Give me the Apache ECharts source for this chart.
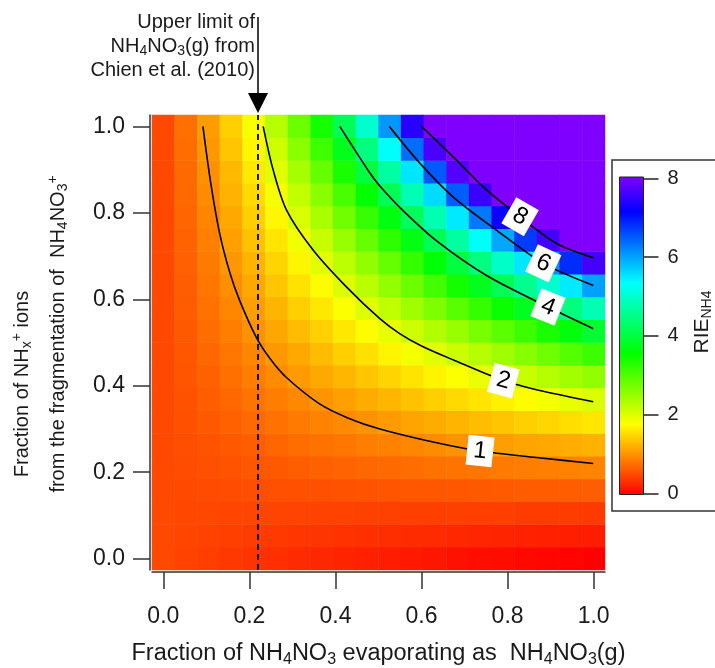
<!DOCTYPE html>
<html>
<head>
<meta charset="utf-8">
<script src="https://cdn.jsdelivr.net/npm/echarts@6/dist/echarts.min.js"></script>
<style>html,body{margin:0;padding:0;background:#fff}#c{width:715px;height:668px}</style>
</head>
<body>
<div id="c"></div>
<script>
// ---------- data ----------
const gridX = [0,0.053,0.105,0.158,0.211,0.263,0.316,0.368,0.421,0.474,0.526,0.579,0.632,0.684,0.737,0.789,0.842,0.895,0.947,1];
const gridY = [0,0.053,0.105,0.158,0.211,0.263,0.316,0.368,0.421,0.474,0.526,0.579,0.632,0.684,0.737,0.789,0.842,0.895,0.947,1];
// RIE_NH4 per cell, rows from y = 0 (bottom) to y = 1 (top); 9 = saturated (>= 8)
const rie = [
 [0.50,0.46,0.43,0.39,0.36,0.33,0.30,0.27,0.25,0.22,0.19,0.17,0.15,0.12,0.10,0.08,0.06,0.04,0.02,0.00],
 [0.50,0.48,0.46,0.44,0.42,0.40,0.38,0.37,0.35,0.33,0.32,0.30,0.29,0.27,0.26,0.25,0.23,0.22,0.21,0.19],
 [0.50,0.49,0.49,0.48,0.48,0.47,0.47,0.46,0.46,0.45,0.45,0.44,0.44,0.44,0.43,0.43,0.42,0.42,0.42,0.41],
 [0.50,0.51,0.52,0.53,0.54,0.55,0.56,0.56,0.57,0.58,0.59,0.60,0.61,0.61,0.62,0.63,0.64,0.64,0.65,0.66],
 [0.50,0.53,0.55,0.58,0.60,0.62,0.65,0.67,0.70,0.72,0.74,0.76,0.79,0.81,0.83,0.85,0.87,0.89,0.91,0.93],
 [0.50,0.54,0.58,0.62,0.66,0.71,0.75,0.79,0.83,0.87,0.90,0.94,0.98,1.02,1.06,1.10,1.14,1.17,1.21,1.25],
 [0.50,0.56,0.62,0.67,0.73,0.79,0.85,0.91,0.96,1.02,1.08,1.14,1.20,1.26,1.32,1.38,1.44,1.49,1.55,1.61],
 [0.50,0.57,0.65,0.72,0.80,0.88,0.95,1.03,1.11,1.19,1.27,1.35,1.44,1.52,1.60,1.69,1.78,1.86,1.95,2.04],
 [0.50,0.59,0.68,0.78,0.87,0.97,1.07,1.17,1.27,1.37,1.48,1.59,1.70,1.81,1.93,2.05,2.17,2.29,2.42,2.54],
 [0.50,0.61,0.72,0.83,0.94,1.06,1.18,1.31,1.44,1.57,1.71,1.85,1.99,2.14,2.30,2.45,2.62,2.79,2.97,3.15],
 [0.50,0.62,0.75,0.88,1.02,1.16,1.31,1.46,1.62,1.78,1.95,2.13,2.32,2.51,2.72,2.93,3.15,3.38,3.63,3.89],
 [0.50,0.64,0.79,0.94,1.10,1.26,1.44,1.62,1.81,2.01,2.23,2.45,2.69,2.94,3.20,3.49,3.79,4.10,4.44,4.81],
 [0.50,0.66,0.82,0.99,1.18,1.37,1.58,1.79,2.02,2.27,2.53,2.81,3.11,3.43,3.77,4.15,4.55,4.99,5.47,5.99],
 [0.50,0.67,0.86,1.05,1.26,1.48,1.72,1.98,2.25,2.55,2.86,3.21,3.59,4.00,4.45,4.95,5.50,6.11,6.80,7.58],
 [0.50,0.69,0.89,1.11,1.35,1.60,1.88,2.17,2.50,2.85,3.24,3.67,4.14,4.67,5.27,5.94,6.70,7.58,8.60,9.00],
 [0.50,0.71,0.93,1.17,1.44,1.73,2.04,2.38,2.77,3.19,3.66,4.19,4.79,5.48,6.27,7.19,8.27,9.00,9.00,9.00],
 [0.50,0.73,0.97,1.24,1.53,1.85,2.21,2.61,3.06,3.57,4.14,4.80,5.57,6.46,7.53,8.82,9.00,9.00,9.00,9.00],
 [0.50,0.74,1.01,1.30,1.63,1.99,2.40,2.86,3.38,3.99,4.69,5.51,6.49,7.69,9.00,9.00,9.00,9.00,9.00,9.00],
 [0.50,0.76,1.05,1.37,1.73,2.13,2.60,3.13,3.74,4.46,5.31,6.35,7.63,9.00,9.00,9.00,9.00,9.00,9.00,9.00],
 [0.50,0.78,1.09,1.44,1.83,2.29,2.81,3.42,4.14,5.00,6.06,7.38,9.00,9.00,9.00,9.00,9.00,9.00,9.00,9.00]
];
const contour1 = [[0.092,1.0],[0.11,0.87],[0.131,0.752],[0.155,0.66],[0.177,0.598],[0.216,0.512],[0.25,0.46],[0.286,0.419],[0.363,0.358],[0.43,0.325],[0.503,0.300],[0.635,0.268],[0.736,0.249],[0.867,0.234],[0.999,0.220]];
const contour2 = [[0.232,1.0],[0.255,0.90],[0.286,0.807],[0.348,0.714],[0.426,0.628],[0.503,0.555],[0.55,0.52],[0.60,0.492],[0.673,0.46],[0.79,0.412],[0.883,0.387],[0.999,0.363]];
const contour4 = [[0.41,1.0],[0.48,0.892],[0.503,0.862],[0.557,0.805],[0.635,0.735],[0.751,0.655],[0.894,0.582],[0.999,0.532]];
const contour6 = [[0.525,1.0],[0.596,0.915],[0.673,0.837],[0.774,0.760],[0.883,0.683],[0.999,0.632]];
const contour8 = [[0.60,1.0],[0.673,0.930],[0.751,0.853],[0.829,0.791],[0.914,0.729],[0.999,0.696]];
const labelText = ['1','2','4','6','8'];
const labelX = [0.736,0.790,0.894,0.883,0.829];
const labelY = [0.249,0.412,0.582,0.683,0.791];
const chienLimit = 0.22;
const xTicks = [0,0.2,0.4,0.6,0.8,1.0];
const yTicks = [0,0.2,0.4,0.6,0.8,1.0];
const cbTicks = [0,2,4,6,8];

// ---------- styles ----------
const labelAngle = [-6,-15,-22,-25,-30];
const FONT = '"Liberation Sans", Arial, Helvetica, sans-serif';
const TXT = '#1a1a1a';
const cmapStops = [[0,[255,0,0]],[1.78,[255,255,0]],[3.56,[0,255,0]],[5.33,[0,255,255]],[7.11,[0,0,255]],[8,[128,0,255]]];
function colorAt(v){
  for (let k=1;k<cmapStops.length;k++){
    const [v1,c1]=cmapStops[k-1],[v2,c2]=cmapStops[k];
    if (v<=v2){const t=(v-v1)/(v2-v1);
      return 'rgb('+c1.map((c,n)=>Math.round(c+(c2[n]-c)*t)).join(',')+')';}
  }
  return 'rgb(128,0,255)';
}
const cmap=[]; for(let k=0;k<=80;k++) cmap.push(colorAt(k/10));
const gradStops = cmapStops.slice().reverse().map(([v,c])=>({offset:(8-v)/8,color:'rgb('+c.join(',')+')'}));

function rich(fs, lh){
  const ss = Math.round(fs*0.68);
  return {
    t:{fontSize:fs,lineHeight:lh,verticalAlign:'middle',fontFamily:FONT,fill:TXT,color:TXT},
    s:{fontSize:ss,lineHeight:ss,verticalAlign:'bottom',fontFamily:FONT,fill:TXT,color:TXT},
    p:{fontSize:ss,lineHeight:ss,verticalAlign:'top',fontFamily:FONT,fill:TXT,color:TXT}
  };
}

const heatData=[];
rie.forEach((row,j)=>row.forEach((v,i)=>heatData.push([i,j,v])));

const chart = echarts.init(document.getElementById('c'), null, {renderer:'canvas', width:715, height:668});
const axLine = {color:'#333', width:1.5};
const fmt = v => Number(v).toFixed(1);

const option = {
  animation:false,
  backgroundColor:'#fff',
  grid:[
    {left:152, top:115, width:453, height:455, containLabel:false, outerBoundsMode:'none'},
    {left:619.5, top:178.3, width:24, height:315, containLabel:false, outerBoundsMode:'none'}
  ],
  xAxis:[
    {type:'category', gridIndex:0, data:gridX, show:false, position:'top'},
    {type:'value', gridIndex:0, min:-0.5/19, max:1+0.5/19, position:'bottom', offset:2,
     axisLine:{show:true, onZero:false, lineStyle:axLine},
     axisTick:{show:true, length:17, customValues:xTicks, lineStyle:axLine},
     axisLabel:{customValues:xTicks, formatter:fmt, fontSize:23, fontFamily:FONT, color:TXT, margin:33},
     splitLine:{show:false}},
    {type:'value', gridIndex:1, show:false, min:0, max:1}
  ],
  yAxis:[
    {type:'category', gridIndex:0, data:gridY, show:false, position:'right'},
    {type:'value', gridIndex:0, min:-0.5/19, max:1+0.5/19, position:'left', offset:2,
     axisLine:{show:true, onZero:false, lineStyle:axLine},
     axisTick:{show:true, length:17, customValues:yTicks, lineStyle:axLine},
     axisLabel:{customValues:yTicks, formatter:fmt, fontSize:23, fontFamily:FONT, color:TXT, margin:25},
     splitLine:{show:false}},
    {type:'value', gridIndex:1, min:0, max:8, interval:2, position:'right',
     axisLine:{show:false, onZero:false},
     axisTick:{show:true, length:15, customValues:cbTicks, lineStyle:{color:'#222', width:1.5}},
     axisLabel:{customValues:cbTicks, fontSize:20, fontFamily:FONT, color:TXT, margin:24},
     splitLine:{show:false}}
  ],
  visualMap:{show:false, type:'continuous', min:0, max:8, dimension:2, seriesIndex:0, inRange:{color:cmap}},
  series:[
    {type:'heatmap', xAxisIndex:0, yAxisIndex:0, data:heatData, silent:true,
     itemStyle:{borderWidth:0}, emphasis:{disabled:true}, z:1},
    ...[contour1,contour2,contour4,contour6,contour8].map((d,k)=>({
      type:'line', xAxisIndex:1, yAxisIndex:1, data:d, showSymbol:false, smooth:0.3, silent:true, z:3,
      lineStyle:{color:'#000', width:1.6},
      markLine: k===0 ? {silent:true, symbol:['none','none'], label:{show:false},
        lineStyle:{color:'#000', width:1.8, type:[6,4]}, data:[{xAxis:chienLimit}]} : undefined
    })),
    {type:'scatter', xAxisIndex:1, yAxisIndex:1, silent:true, z:5, symbol:'rect', symbolSize:[26,30],
     itemStyle:{color:'#fff', opacity:1},
     label:{show:true, position:'inside', formatter:'{b}', fontSize:24, fontFamily:FONT, color:'#000'},
     data: labelX.map((x,k)=>({name:labelText[k], value:[x,labelY[k]], symbolRotate:labelAngle[k], label:{rotate:labelAngle[k]}}))}
  ]
};
chart.setOption(option);

const px = chart.convertToPixel({xAxisIndex:1}, chienLimit);
chart.setOption({graphic:[
  {type:'text', x:378.5, y:654, silent:true,
   style:{text:'{t|Fraction of NH}{s|4}{t|NO}{s|3}{t| evaporating as  NH}{s|4}{t|NO}{s|3}{t|(g)}',
     rich:rich(23.5,27), align:'center', verticalAlign:'middle', fontFamily:FONT, fontSize:23.5, fill:TXT}},
  {type:'text', x:22, y:384, rotation:Math.PI/2, silent:true,
   style:{text:'{t|Fraction of NH}{s|x}{p|+}{t| ions}', rich:rich(20,24), align:'center', verticalAlign:'middle', fontFamily:FONT, fontSize:20, fill:TXT}},
  {type:'text', x:58, y:334, rotation:Math.PI/2, silent:true,
   style:{text:'{t|from the fragmentation of  NH}{s|4}{t|NO}{s|3}{p|+}', rich:rich(20,24), align:'center', verticalAlign:'middle', fontFamily:FONT, fontSize:20, fill:TXT}},
  {type:'text', x:702, y:322, rotation:Math.PI/2, silent:true,
   style:{text:'{t|RIE}{s|NH4}', rich:rich(21,24), align:'center', verticalAlign:'middle', fontFamily:FONT, fontSize:21, fill:TXT}},
  {type:'text', x:255, y:46.5, silent:true,
   style:{text:'{t|Upper limit of}\n{t|NH}{s|4}{t|NO}{s|3}{t|(g) from}\n{t|Chien et al. (2010)}',
     rich:rich(20,24), align:'right', verticalAlign:'middle', fontFamily:FONT, fontSize:20, fill:TXT}},
  {type:'line', silent:true, shape:{x1:px, y1:17, x2:px, y2:96}, style:{stroke:'#000', lineWidth:1.5}},
  {type:'polygon', silent:true, shape:{points:[[px-10,93],[px+10,93],[px,113]]}, style:{fill:'#000'}},
  {type:'rect', silent:true, shape:{x:612, y:160, width:140, height:351}, style:{fill:'none', stroke:'#333', lineWidth:1.5}},
  {type:'rect', silent:true, z:10, shape:{x:619.5, y:177, width:24, height:317.5},
   style:{fill:new echarts.graphic.LinearGradient(0,0,0,1,gradStops), stroke:'#222', lineWidth:1}}
]});
</script>
</body>
</html>
